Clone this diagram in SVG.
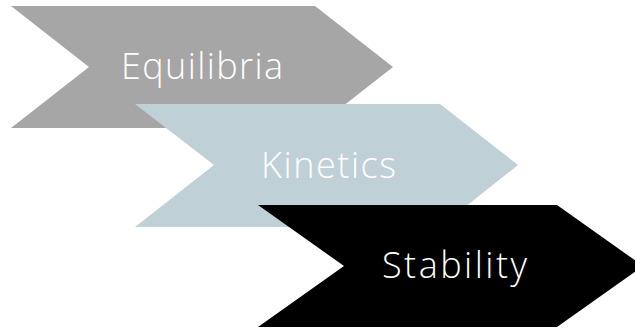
<svg xmlns="http://www.w3.org/2000/svg" width="635" height="328" viewBox="0 0 635 328">
<style>
.lbl{font-family:"Open Sans","Liberation Sans",sans-serif;font-size:36px;fill:#FFFFFF;font-weight:300}
</style>
<rect width="635" height="328" fill="#FFFFFF"/>
<g id="equilibria">
<polygon points="11,6 315,6 393,67 315,128 11,128 89,67" fill="#A6A6A6"/>
<text class="lbl" x="121" y="79" textLength="162" lengthAdjust="spacing">Equilibria</text>
</g>
<g id="kinetics">
<polygon points="135,104 440,104 518,165 440,227 135,227 214,165" fill="#BFD0D6"/>
<text class="lbl" x="261" y="178" textLength="135" lengthAdjust="spacing">Kinetics</text>
</g>
<g id="stability">
<polygon points="258,205 557,205 643,266 557,327 258,327 344,266" fill="#000000"/>
<text class="lbl" x="382" y="278" textLength="145" lengthAdjust="spacing">Stability</text>
</g>
<g id="connectors"></g>
</svg>
